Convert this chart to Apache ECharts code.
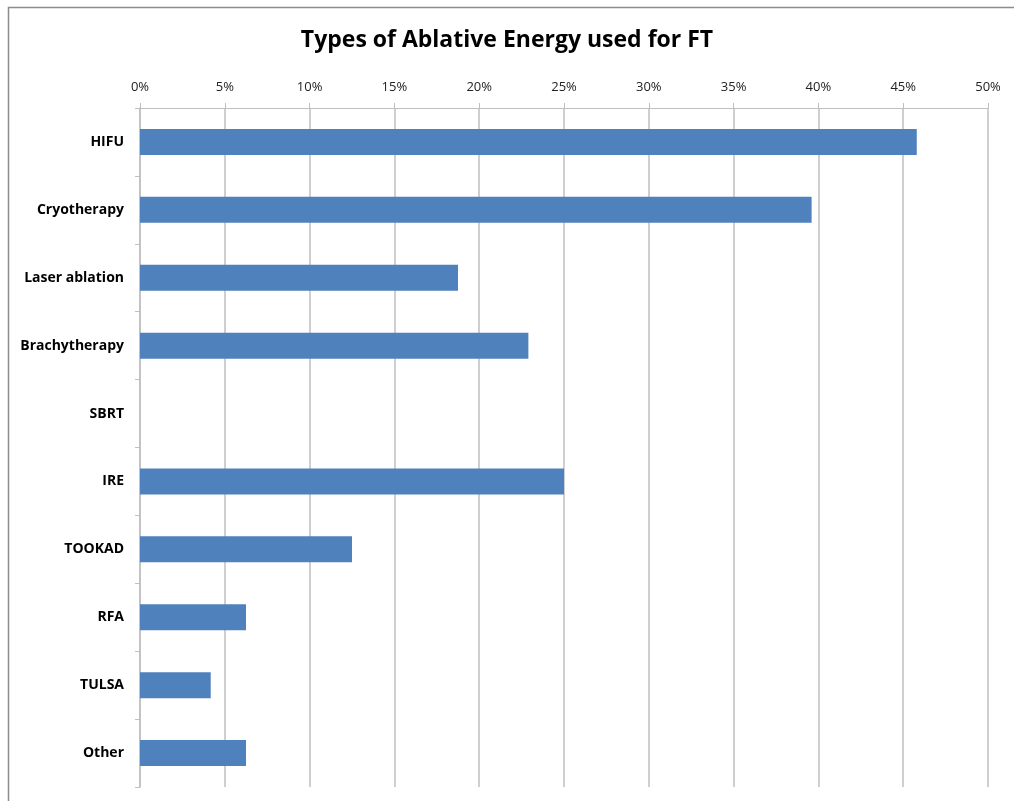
<!DOCTYPE html>
<html>
<head>
<meta charset="utf-8">
<script src="https://cdn.jsdelivr.net/npm/echarts@6/dist/echarts.min.js"></script>
<style>
  html, body { margin: 0; padding: 0; background: #fff; }
  #chart { width: 1014px; height: 801px; }
</style>
</head>
<body>
<div id="chart"></div>
<script>
// Share of respondents using each ablative energy source (percent)
const categories = ['HIFU', 'Cryotherapy', 'Laser ablation', 'Brachytherapy', 'SBRT', 'IRE', 'TOOKAD', 'RFA', 'TULSA', 'Other'];
const shares = [45.8, 39.6, 18.75, 22.9, 0, 25, 12.5, 6.25, 4.17, 6.25];
const percentTicks = [0, 5, 10, 15, 20, 25, 30, 35, 40, 45, 50];

const chart = echarts.init(document.getElementById('chart'));
const gridColor = '#bfbfbf';

chart.setOption({
  animation: false,
  backgroundColor: '#ffffff',
  title: {
    text: 'Types of Ablative Energy used for FT',
    left: 'center',
    top: 24,
    textStyle: {
      fontFamily: 'Open Sans',
      fontWeight: 'bold',
      fontSize: 23,
      color: '#000'
    }
  },
  graphic: [{
    type: 'polyline',
    shape: { points: [[8.5, 801], [8.5, 7.5], [1014, 7.5]] },
    style: { stroke: '#8c8c8c', lineWidth: 1.5, fill: null },
    silent: true
  }],
  grid: { left: 140, right: 26, top: 108, bottom: 14, containLabel: false },
  xAxis: {
    type: 'value',
    position: 'top',
    min: percentTicks[0],
    max: percentTicks[percentTicks.length - 1],
    interval: percentTicks[1] - percentTicks[0],
    axisLine: { show: true, lineStyle: { color: gridColor, width: 1 } },
    axisTick: { show: true, length: 5, lineStyle: { color: gridColor } },
    splitLine: { show: true, lineStyle: { color: gridColor, width: 1.5 } },
    axisLabel: {
      formatter: '{value}%',
      fontFamily: 'Open Sans',
      fontSize: 13,
      color: '#222',
      margin: 14
    }
  },
  yAxis: {
    type: 'category',
    inverse: true,
    data: categories,
    axisLine: { show: true, lineStyle: { color: gridColor, width: 1.5 } },
    axisTick: { show: true, length: 5, lineStyle: { color: gridColor } },
    axisLabel: {
      fontFamily: 'Open Sans',
      fontWeight: 'bold',
      fontSize: 14,
      color: '#000',
      margin: 16
    }
  },
  series: [{
    type: 'bar',
    data: shares,
    barWidth: 26,
    itemStyle: { color: '#4f81bd' }
  }]
});
</script>
</body>
</html>
